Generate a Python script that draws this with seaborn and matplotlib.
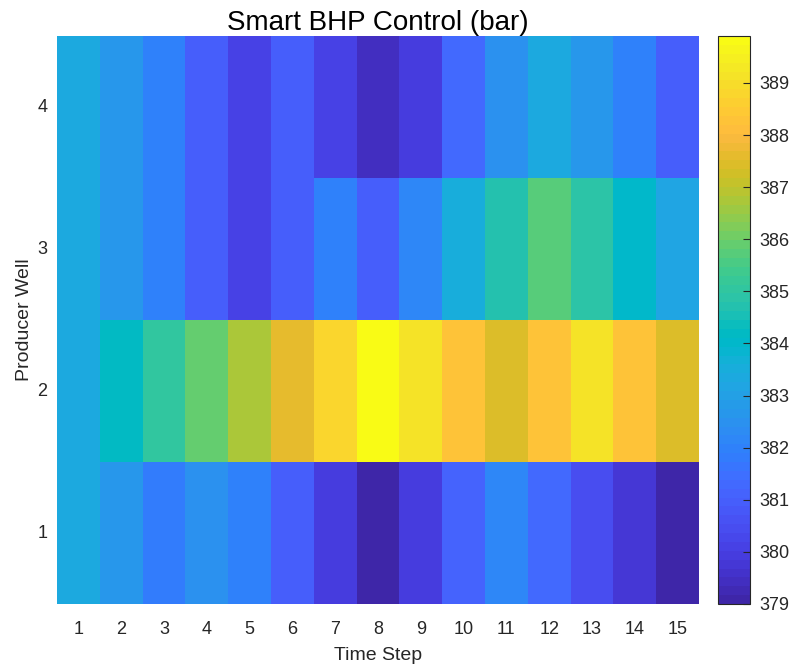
import numpy as np
import pandas as pd
import matplotlib
matplotlib.use("Agg")
import matplotlib.pyplot as plt
import seaborn as sns
from matplotlib.colors import ListedColormap

# ---- data ----
time_steps = list(range(1, 16))
wells = [4, 3, 2, 1]  # top to bottom as displayed
well4 = [383.3, 382.6, 381.9, 380.9, 380.1, 380.9, 380.05, 379.35, 380.0, 381.25, 382.55, 383.4, 382.6, 382.0, 380.9]
well3 = [383.3, 382.6, 381.9, 380.9, 380.1, 380.9, 381.9, 380.9, 382.1, 383.5, 384.7, 385.75, 384.9, 384.0, 383.25]
well2 = [383.3, 384.2, 385.0, 385.9, 386.8, 387.65, 388.85, 389.9, 389.2, 388.25, 387.5, 388.2, 389.2, 388.2, 387.5]
well1 = [383.3, 382.6, 381.85, 382.55, 381.9, 380.9, 379.95, 379.0, 379.95, 381.2, 382.1, 381.3, 380.5, 379.7, 379.0]
cbar_ticks = list(range(379, 390))

# ---- MATLAB parula(64) ----
parula = [
[0.2422,0.1504,0.6603],[0.2504,0.1650,0.7076],[0.2578,0.1818,0.7511],[0.2647,0.1978,0.7952],
[0.2706,0.2147,0.8364],[0.2751,0.2342,0.8710],[0.2783,0.2559,0.8991],[0.2803,0.2782,0.9221],
[0.2813,0.3006,0.9414],[0.2810,0.3228,0.9579],[0.2795,0.3447,0.9717],[0.2760,0.3667,0.9829],
[0.2699,0.3892,0.9906],[0.2602,0.4123,0.9952],[0.2440,0.4358,0.9988],[0.2206,0.4603,0.9973],
[0.1963,0.4847,0.9892],[0.1834,0.5074,0.9798],[0.1786,0.5289,0.9682],[0.1764,0.5499,0.9520],
[0.1687,0.5703,0.9359],[0.1540,0.5902,0.9218],[0.1460,0.6091,0.9079],[0.1380,0.6276,0.8973],
[0.1248,0.6459,0.8883],[0.1113,0.6635,0.8763],[0.0952,0.6798,0.8598],[0.0689,0.6948,0.8394],
[0.0297,0.7082,0.8163],[0.0036,0.7203,0.7917],[0.0067,0.7312,0.7660],[0.0433,0.7411,0.7394],
[0.0964,0.7500,0.7120],[0.1408,0.7584,0.6842],[0.1717,0.7670,0.6554],[0.1938,0.7758,0.6251],
[0.2161,0.7843,0.5923],[0.2470,0.7918,0.5567],[0.2906,0.7973,0.5188],[0.3406,0.8008,0.4789],
[0.3909,0.8029,0.4354],[0.4456,0.8024,0.3909],[0.5044,0.7993,0.3480],[0.5616,0.7942,0.3045],
[0.6174,0.7876,0.2612],[0.6720,0.7793,0.2227],[0.7242,0.7698,0.1910],[0.7738,0.7598,0.1646],
[0.8203,0.7498,0.1535],[0.8634,0.7406,0.1596],[0.9035,0.7330,0.1774],[0.9393,0.7288,0.2100],
[0.9728,0.7298,0.2394],[0.9956,0.7434,0.2371],[0.9970,0.7659,0.2199],[0.9952,0.7893,0.2028],
[0.9892,0.8136,0.1885],[0.9786,0.8386,0.1766],[0.9676,0.8639,0.1643],[0.9610,0.8890,0.1537],
[0.9597,0.9135,0.1423],[0.9628,0.9373,0.1265],[0.9691,0.9606,0.1064],[0.9769,0.9839,0.0805]]
cmap = ListedColormap(parula, name="parula")

df = pd.DataFrame([well4, well3, well2, well1], index=wells, columns=time_steps)

plt.rcParams['font.family'] = ['Liberation Sans', 'DejaVu Sans']
fig = plt.figure(figsize=(7.95, 6.66), dpi=100)
ax = fig.add_axes([57/795, 1-604/666, (699-57)/795, (604-36)/666])
cax = fig.add_axes([718/795, 1-604/666, (750-718)/795, (604-36)/666])

sns.heatmap(df, ax=ax, cbar_ax=cax, cmap=cmap, vmin=379.0, vmax=389.9,
            linewidths=0)

txtc = '#262626'
ax.set_title("Smart BHP Control (bar)", fontsize=20, color='black', pad=3)
ax.set_xlabel("Time Step", fontsize=14, color=txtc, labelpad=7)
ax.set_ylabel("Producer Well", fontsize=14, color=txtc, labelpad=3)
ax.tick_params(axis='x', length=0, labelsize=13, colors=txtc, pad=12)
ax.tick_params(axis='y', length=0, labelsize=13, colors=txtc, pad=7)
ax.set_yticklabels([str(w) for w in wells], rotation=0)
ax.set_xticklabels([str(t) for t in time_steps], rotation=0)

cbar = ax.collections[0].colorbar
cbar.set_ticks(cbar_ticks)
cbar.ax.tick_params(direction='in', length=5, width=0.8, labelsize=13, colors=txtc, pad=7)
cbar.outline.set_visible(True)
cbar.outline.set_edgecolor('#262626')
cbar.outline.set_linewidth(0.8)

fig.savefig("out.png", dpi=100)
